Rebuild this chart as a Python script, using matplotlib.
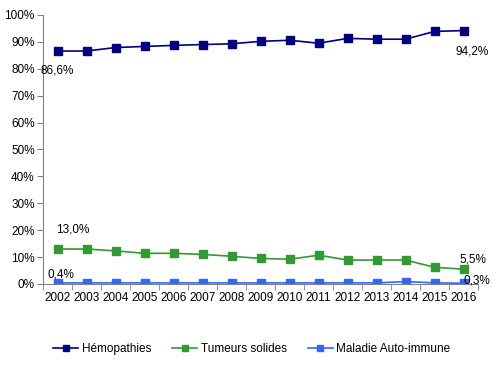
import matplotlib
matplotlib.use("Agg")
import matplotlib.pyplot as plt
import numpy as np
from matplotlib.ticker import FixedLocator, PercentFormatter

plt.rcParams["font.family"] = ["Liberation Sans", "DejaVu Sans"]
plt.rcParams["font.size"] = 8.5

years = [str(y) for y in range(2002, 2017)]
hemopathies = [86.6, 86.6, 87.9, 88.3, 88.7, 89.0, 89.3, 90.2, 90.6, 89.5, 91.3, 91.0, 91.0, 93.9, 94.2]
tumeurs = [13.0, 13.0, 12.3, 11.4, 11.4, 11.0, 10.3, 9.5, 9.2, 10.7, 8.9, 8.9, 8.9, 6.2, 5.5]
auto_immune = [0.4, 0.4, 0.4, 0.4, 0.4, 0.4, 0.4, 0.4, 0.4, 0.4, 0.4, 0.4, 0.9, 0.4, 0.3]

series = [
    ("Hémopathies", hemopathies, "#000080"),
    ("Tumeurs solides", tumeurs, "#339933"),
    ("Maladie Auto-immune", auto_immune, "#3366FF"),
]

fig = plt.figure(figsize=(4.99, 3.68), dpi=100)
ax = fig.add_axes([0.0862, 0.2283, 0.872, 0.731])
x = np.arange(len(years))

for name, vals, col in series:
    ax.plot(x, vals, color=col, lw=1.2, marker="s", ms=6, label=name)

ax.set_xlim(-0.5, len(years) - 0.5)
ax.set_ylim(0, 100)
ax.set_yticks(np.arange(0, 101, 10))
ax.yaxis.set_major_formatter(PercentFormatter(decimals=0))
ax.set_xticks(x)
ax.set_xticklabels(years)
ax.xaxis.set_minor_locator(FixedLocator(np.arange(-0.5, len(years), 1)))
ax.tick_params(axis="x", which="major", length=0, pad=6, labelsize=8.5)
ax.tick_params(axis="x", which="minor", length=4, color="#808080")
ax.tick_params(axis="y", length=4, color="#808080", pad=2)

for s in ["top", "right"]:
    ax.spines[s].set_visible(False)
for s in ["left", "bottom"]:
    ax.spines[s].set_color("#808080")

# etiquettes des valeurs
ax.annotate("86,6%", (x[0], hemopathies[0]), xytext=(-12, -10), textcoords="offset points", va="top")
ax.annotate("94,2%", (x[-1], hemopathies[-1]), xytext=(-6, -11), textcoords="offset points", va="top")
ax.annotate("13,0%", (x[0], tumeurs[0]), xytext=(-1, 10), textcoords="offset points", va="bottom")
ax.annotate("5,5%", (x[-1], tumeurs[-1]), xytext=(-3, 3), textcoords="offset points", va="bottom")
ax.annotate("0,4%", (x[0], auto_immune[0]), xytext=(-7, 2), textcoords="offset points", va="bottom")
ax.annotate("0,3%", (x[-1], auto_immune[-1]), xytext=(0, -2.5), textcoords="offset points", va="bottom")

fig.legend(loc="center", bbox_to_anchor=(0.505, 0.052), ncol=3, frameon=False,
           handlelength=2.1, columnspacing=1.8, handletextpad=0.3, markerscale=0.8)

fig.savefig("out.png", dpi=100)
